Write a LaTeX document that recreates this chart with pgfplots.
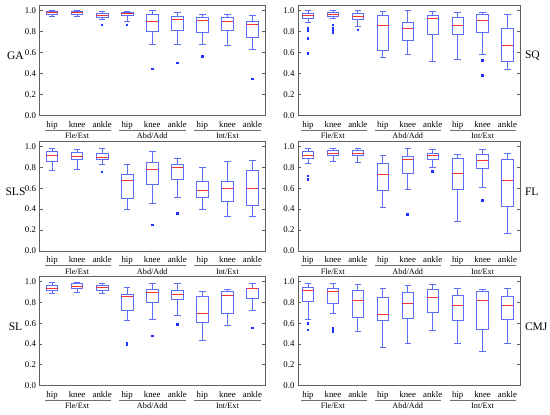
\documentclass[border=0pt]{standalone}
\usepackage{fontspec}
\setmainfont{Liberation Serif}
\usepackage{pgfplots}
\pgfplotsset{compat=1.18}
\usepgfplotslibrary{statistics}
\definecolor{boxblue}{RGB}{90,110,250}
\definecolor{outblue}{RGB}{30,50,255}
\definecolor{medred}{RGB}{240,50,50}
\definecolor{frame}{RGB}{95,95,95}
\definecolor{grpline}{RGB}{110,110,110}
\newcommand{\bp}[7]{\addplot[draw=boxblue, line width=0.75pt, mark=square*, mark size=0.8pt,
  mark options={fill=outblue,draw=outblue,line width=0pt},
  boxplot/draw direction=y,
  boxplot/box extend=0.46, boxplot/whisker extend=0.26,
  boxplot/every median/.style={draw=medred,line width=1pt},
  boxplot prepared={draw position=#1, lower whisker=#2, lower quartile=#3,
  median=#4, upper quartile=#5, upper whisker=#6}] coordinates {#7};}
\newcommand{\groups}{%
  \draw[grpline,line width=0.8pt] ([yshift=-14.5pt]axis cs:0.72,0) -- ([yshift=-14.5pt]axis cs:3.35,0);
  \draw[grpline,line width=0.8pt] ([yshift=-14.5pt]axis cs:3.68,0) -- ([yshift=-14.5pt]axis cs:6.33,0);
  \draw[grpline,line width=0.8pt] ([yshift=-14.5pt]axis cs:6.68,0) -- ([yshift=-14.5pt]axis cs:9.35,0);
  \node[font=\fontsize{8.2}{9}\selectfont] at ([yshift=-20.5pt]axis cs:2,0) {Fle/Ext};
  \node[font=\fontsize{8.2}{9}\selectfont] at ([yshift=-20.5pt]axis cs:5,0) {Abd/Add};
  \node[font=\fontsize{8.2}{9}\selectfont] at ([yshift=-20.5pt]axis cs:8,0) {Int/Ext};}
\newcommand{\lname}[1]{\node[font=\fontsize{11.5}{13}\selectfont] at ([xshift=-24pt]axis cs:0.5,0.57) {#1};}
\newcommand{\rname}[1]{\node[anchor=west,font=\fontsize{11.5}{13}\selectfont] at ([xshift=1.5pt]axis cs:9.5,0.57) {#1};}
\pgfplotsset{panel/.style={anchor=south west, scale only axis, height=110pt,
  xmax=9.5, ymin=0, ymax=1.05, clip=false,
  axis line style={draw=frame,line width=0.9pt},
  ytick={0,0.2,0.4,0.6,0.8,1.0}, ytick pos=both, yticklabel pos=left,
  major tick length=3pt, y tick style={draw=frame,line width=0.6pt},
  xtick={1,...,9}, xticklabels={hip,knee,ankle,hip,knee,ankle,hip,knee,ankle},
  x tick style={draw=none}, xtick pos=bottom,
  xticklabel style={font=\fontsize{8.8}{10}\selectfont, yshift=-2.2pt},
  yticklabel style={font=\fontsize{8.8}{10}\selectfont,
    /pgf/number format/fixed, /pgf/number format/fixed zerofill,
    /pgf/number format/precision=1, /pgf/number format/assume math mode=true}},
  leftp/.style={panel, width=225.5pt, xmin=0.5},
  rightp/.style={panel, width=222pt, xmin=0.6}}
\begin{document}
\begin{tikzpicture}
\path[use as bounding box] (0,0) rectangle (550pt,415pt);
% GA
\begin{axis}[leftp, at={(39.5pt,299.5pt)}]
\bp{1}{0.95}{0.97}{0.98}{0.99}{1.0}{}
\bp{2}{0.945}{0.97}{0.98}{0.99}{1.0}{}
\bp{3}{0.92}{0.935}{0.95}{0.975}{0.99}{(0,0.865)}
\bp{4}{0.90}{0.955}{0.97}{0.98}{0.99}{(0,0.865)}
\bp{5}{0.675}{0.80}{0.895}{0.965}{1.0}{(0,0.445)}
\bp{6}{0.675}{0.815}{0.915}{0.945}{0.98}{(0,0.50)}
\bp{7}{0.68}{0.79}{0.905}{0.94}{0.965}{(0,0.565)}
\bp{8}{0.67}{0.81}{0.895}{0.94}{0.97}{}
\bp{9}{0.63}{0.75}{0.865}{0.895}{0.955}{(0,0.35)}
\groups
\lname{GA}
\end{axis}
% SQ
\begin{axis}[rightp, at={(298pt,299.5pt)}]
\bp{1}{0.89}{0.925}{0.955}{0.975}{1.0}{(0,0.83) (0,0.81) (0,0.735) (0,0.59)}
\bp{2}{0.93}{0.95}{0.965}{0.985}{1.0}{(0,0.865) (0,0.83) (0,0.81) (0,0.795)}
\bp{3}{0.85}{0.92}{0.945}{0.975}{1.0}{(0,0.815)}
\bp{4}{0.555}{0.625}{0.855}{0.955}{0.99}{}
\bp{5}{0.58}{0.72}{0.835}{0.885}{1.0}{}
\bp{6}{0.52}{0.77}{0.93}{0.955}{0.99}{}
\bp{7}{0.54}{0.77}{0.86}{0.94}{0.985}{}
\bp{8}{0.58}{0.79}{0.905}{0.965}{0.98}{(0,0.525) (0,0.38)}
\bp{9}{0.445}{0.52}{0.665}{0.835}{0.965}{}
\groups
\rname{SQ}
\end{axis}
% SLS
\begin{axis}[leftp, at={(39.5pt,164pt)}]
\bp{1}{0.765}{0.86}{0.91}{0.955}{0.975}{}
\bp{2}{0.78}{0.875}{0.905}{0.945}{0.97}{}
\bp{3}{0.83}{0.87}{0.895}{0.93}{0.975}{(0,0.755)}
\bp{4}{0.40}{0.505}{0.67}{0.735}{0.825}{}
\bp{5}{0.455}{0.64}{0.78}{0.845}{0.95}{(0,0.25)}
\bp{6}{0.515}{0.68}{0.80}{0.83}{0.885}{(0,0.36)}
\bp{7}{0.40}{0.51}{0.575}{0.665}{0.795}{}
\bp{8}{0.33}{0.47}{0.595}{0.66}{0.86}{}
\bp{9}{0.335}{0.435}{0.60}{0.77}{0.865}{}
\groups
\lname{SLS}
\end{axis}
% FL
\begin{axis}[rightp, at={(298pt,164pt)}]
\bp{1}{0.835}{0.88}{0.915}{0.95}{0.975}{(0,0.715) (0,0.685)}
\bp{2}{0.86}{0.91}{0.935}{0.96}{0.975}{}
\bp{3}{0.85}{0.91}{0.935}{0.96}{0.98}{}
\bp{4}{0.42}{0.58}{0.73}{0.84}{0.91}{}
\bp{5}{0.585}{0.745}{0.87}{0.905}{0.975}{(0,0.35)}
\bp{6}{0.80}{0.875}{0.91}{0.935}{0.97}{(0,0.76)}
\bp{7}{0.285}{0.59}{0.735}{0.88}{0.925}{}
\bp{8}{0.61}{0.79}{0.865}{0.925}{0.97}{(0,0.48)}
\bp{9}{0.17}{0.43}{0.675}{0.875}{0.935}{}
\groups
\rname{FL}
\end{axis}
% SL
\begin{axis}[leftp, at={(39.5pt,29.5pt)}, height=109pt]
\bp{1}{0.885}{0.915}{0.93}{0.965}{0.99}{}
\bp{2}{0.895}{0.935}{0.955}{0.98}{0.99}{}
\bp{3}{0.885}{0.92}{0.94}{0.965}{0.985}{}
\bp{4}{0.63}{0.72}{0.86}{0.88}{0.95}{(0,0.41) (0,0.39)}
\bp{5}{0.635}{0.80}{0.895}{0.93}{0.985}{(0,0.475)}
\bp{6}{0.675}{0.825}{0.875}{0.915}{0.98}{(0,0.585)}
\bp{7}{0.435}{0.61}{0.69}{0.86}{0.91}{}
\bp{8}{0.58}{0.69}{0.87}{0.905}{0.93}{}
\bp{9}{0.725}{0.835}{0.93}{0.935}{0.98}{(0,0.555)}
\groups
\lname{SL}
\end{axis}
% CMJ
\begin{axis}[rightp, at={(298pt,29.5pt)}, height=109pt]
\bp{1}{0.64}{0.815}{0.915}{0.95}{0.98}{(0,0.595) (0,0.535)}
\bp{2}{0.69}{0.79}{0.905}{0.94}{0.985}{(0,0.548) (0,0.522)}
\bp{3}{0.52}{0.66}{0.815}{0.915}{0.975}{}
\bp{4}{0.37}{0.63}{0.68}{0.845}{0.94}{}
\bp{5}{0.405}{0.645}{0.79}{0.895}{0.96}{}
\bp{6}{0.53}{0.70}{0.85}{0.93}{0.97}{}
\bp{7}{0.405}{0.625}{0.77}{0.865}{0.94}{}
\bp{8}{0.33}{0.54}{0.815}{0.91}{0.93}{}
\bp{9}{0.405}{0.635}{0.775}{0.86}{0.94}{}
\groups
\rname{CMJ}
\end{axis}
\end{tikzpicture}
\end{document}
